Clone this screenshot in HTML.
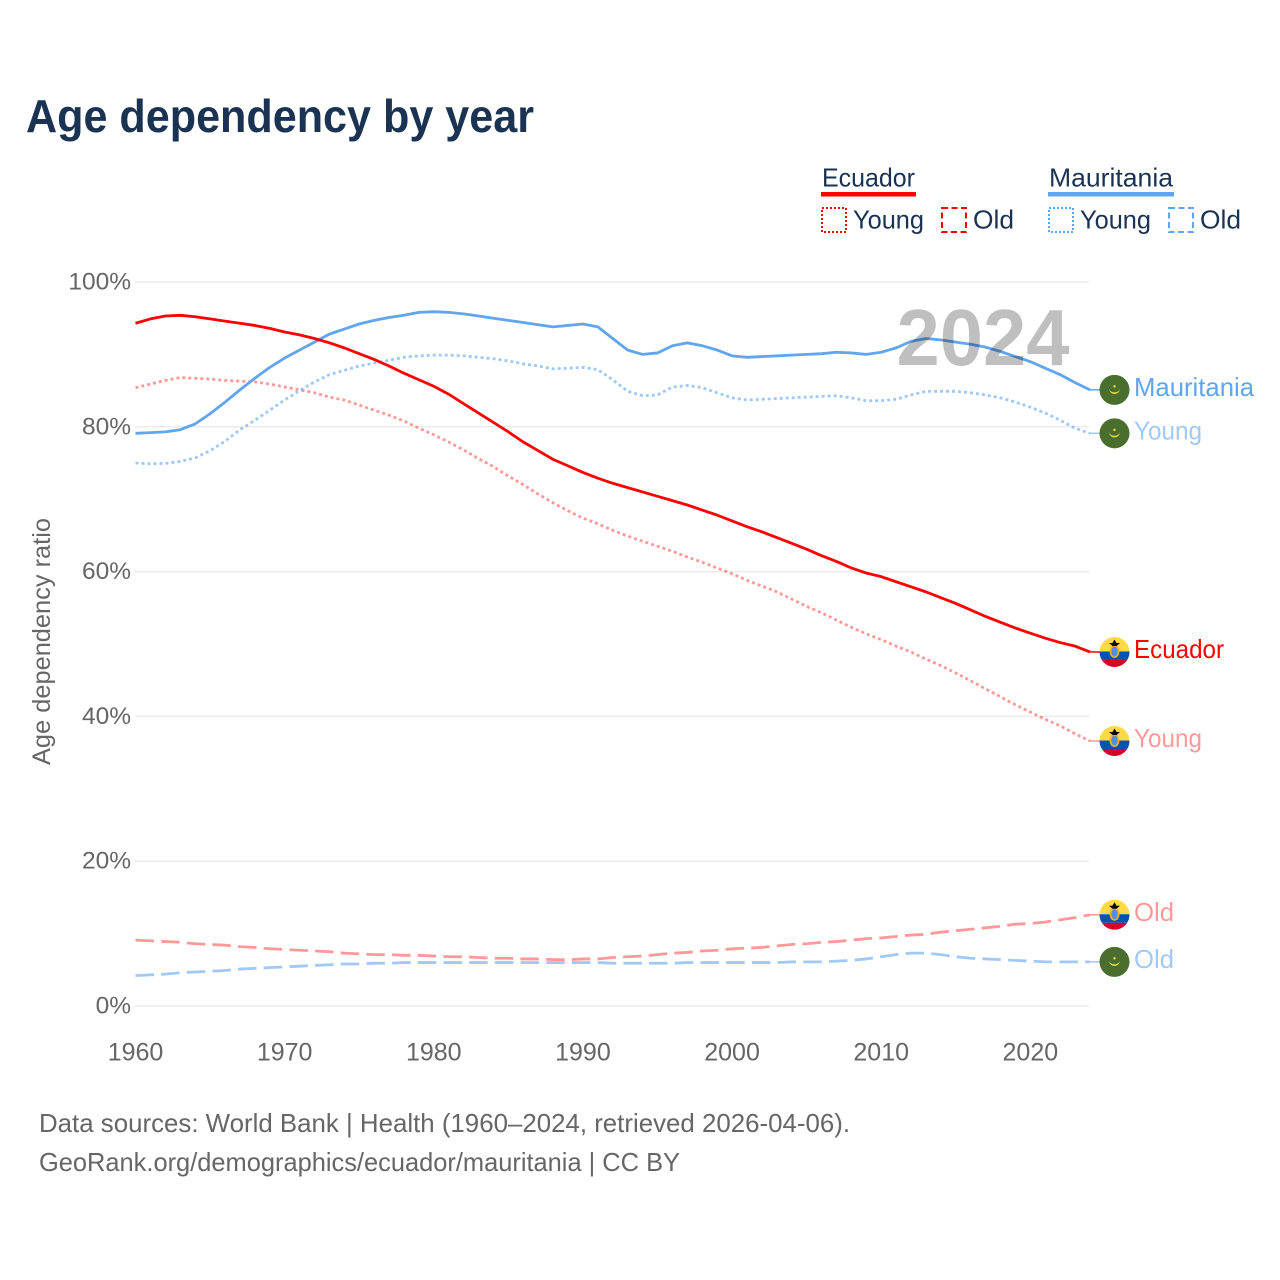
<!DOCTYPE html>
<html lang="en">
<head>
<meta charset="utf-8">
<title>Age dependency by year</title>
<style>
html,body{margin:0;padding:0;background:#fff;width:1280px;height:1280px;overflow:hidden}
svg{display:block}
text{font-family:"Liberation Sans",sans-serif}
</style>
</head>
<body>
<svg id="chart" xmlns="http://www.w3.org/2000/svg" width="1280" height="1280" viewBox="0 0 1280 1280">
  <text x="26" y="132" font-size="46" font-weight="700" fill="#1a3353" textLength="508" lengthAdjust="spacingAndGlyphs">Age dependency by year</text>

  <g id="grid"></g>
  <g id="yticks"></g>
  <g id="xticks"></g>
  <text transform="translate(50,641.5) rotate(-90)" text-anchor="middle" font-size="25" fill="#666" textLength="247" lengthAdjust="spacingAndGlyphs">Age dependency ratio</text>

  <g id="series"></g>

  <text x="896.5" y="365" font-size="80" font-weight="700" fill="rgba(0,0,0,0.25)" textLength="173" lengthAdjust="spacingAndGlyphs">2024</text>

  <g id="ends"></g>

  <g>
    <g>
      <text x="822" y="186.5" font-size="26" fill="#1a3353" textLength="93" lengthAdjust="spacingAndGlyphs">Ecuador</text>
      <rect x="821" y="192" width="95" height="4.5" fill="#ff0000"/>
      <rect x="822" y="208" width="24" height="24" fill="none" stroke="#ff0000" stroke-width="2" stroke-dasharray="2 2"/>
      <text x="853" y="228.5" font-size="26" fill="#1a3353" textLength="71" lengthAdjust="spacingAndGlyphs">Young</text>
      <rect x="942" y="208" width="24" height="24" fill="none" stroke="#ff0000" stroke-width="2" stroke-dasharray="6 3.5"/>
      <text x="973" y="228.5" font-size="26" fill="#1a3353" textLength="41" lengthAdjust="spacingAndGlyphs">Old</text>
    </g>
    <g>
      <text x="1049" y="186.5" font-size="26" fill="#1a3353" textLength="124" lengthAdjust="spacingAndGlyphs">Mauritania</text>
      <rect x="1048" y="192" width="126" height="4.5" fill="#60a5ee"/>
      <rect x="1049" y="208" width="24" height="24" fill="none" stroke="#60a5ee" stroke-width="2" stroke-dasharray="2 2"/>
      <text x="1080" y="228.5" font-size="26" fill="#1a3353" textLength="71" lengthAdjust="spacingAndGlyphs">Young</text>
      <rect x="1169" y="208" width="24" height="24" fill="none" stroke="#60a5ee" stroke-width="2" stroke-dasharray="6 3.5"/>
      <text x="1200" y="228.5" font-size="26" fill="#1a3353" textLength="41" lengthAdjust="spacingAndGlyphs">Old</text>
    </g>
  </g>

  <text x="39" y="1132" font-size="26" fill="#666" textLength="811" lengthAdjust="spacingAndGlyphs">Data sources: World Bank | Health (1960–2024, retrieved 2026-04-06).</text>
  <text x="39" y="1171" font-size="26" fill="#666" textLength="641" lengthAdjust="spacingAndGlyphs">GeoRank.org/demographics/ecuador/mauritania | CC BY</text>
</svg>
<script>
var firstYear = 1960;
var lastYear = 2024;
var xTickYears = [1960, 1970, 1980, 1990, 2000, 2010, 2020];
var yTickValues = [0, 20, 40, 60, 80, 100];
var yTickLabels = ['0%', '20%', '40%', '60%', '80%', '100%'];

var ecuadorTotal = [
  94.3,94.9,95.3,95.4,95.2,94.9,94.6,94.3,94.0,93.6,
  93.1,92.7,92.2,91.6,90.9,90.1,89.3,88.4,87.4,86.5,
  85.6,84.5,83.2,81.9,80.6,79.3,77.9,76.7,75.5,74.6,
  73.7,72.9,72.2,71.6,71.0,70.4,69.8,69.2,68.5,67.8,
  67.0,66.2,65.5,64.7,63.9,63.1,62.2,61.4,60.5,59.8,
  59.3,58.6,57.9,57.2,56.4,55.6,54.7,53.8,53.0,52.2,
  51.5,50.8,50.2,49.7,48.9
];
var ecuadorYoung = [
  85.4,85.9,86.4,86.8,86.7,86.6,86.4,86.3,86.2,85.9,
  85.5,85.1,84.7,84.1,83.7,83.0,82.3,81.6,80.8,79.8,
  78.9,77.9,76.8,75.6,74.5,73.2,72.0,70.7,69.5,68.4,
  67.4,66.6,65.7,64.9,64.2,63.5,62.8,62.0,61.3,60.5,
  59.7,58.8,58.0,57.2,56.2,55.2,54.3,53.3,52.3,51.4,
  50.6,49.7,48.9,47.9,47.0,46.0,44.9,43.8,42.7,41.6,
  40.6,39.6,38.7,37.6,36.6
];
var ecuadorOld = [
  9.1,9.0,8.9,8.8,8.6,8.5,8.4,8.2,8.1,7.9,
  7.8,7.7,7.6,7.5,7.3,7.2,7.1,7.1,7.0,7.0,
  6.9,6.8,6.8,6.7,6.6,6.6,6.5,6.5,6.4,6.4,
  6.5,6.5,6.7,6.8,6.9,7.1,7.3,7.4,7.6,7.7,
  7.9,8.0,8.1,8.3,8.5,8.6,8.8,8.9,9.1,9.3,
  9.4,9.6,9.8,9.9,10.2,10.4,10.6,10.8,11.0,11.3,
  11.4,11.6,11.9,12.2,12.6
];
var mauritaniaTotal = [
  79.1,79.2,79.3,79.6,80.4,81.8,83.4,85.1,86.7,88.2,
  89.5,90.6,91.7,92.8,93.5,94.2,94.7,95.1,95.4,95.8,
  95.9,95.8,95.6,95.3,95.0,94.7,94.4,94.1,93.8,94.0,
  94.2,93.8,92.2,90.6,90.0,90.2,91.2,91.6,91.2,90.6,
  89.8,89.6,89.7,89.8,89.9,90.0,90.1,90.3,90.2,90.0,
  90.3,90.9,91.8,92.2,92.0,91.7,91.4,91.0,90.4,89.7,
  89.0,88.1,87.2,86.1,85.1
];
var mauritaniaYoung = [
  75.0,74.9,74.95,75.2,75.7,76.7,78.0,79.6,80.9,82.3,
  83.7,85.0,86.2,87.2,87.8,88.4,88.8,89.2,89.6,89.8,
  89.9,89.9,89.8,89.6,89.4,89.1,88.7,88.4,88.0,88.1,
  88.2,87.9,86.5,84.9,84.3,84.4,85.5,85.7,85.4,84.7,
  84.0,83.7,83.8,83.9,84.0,84.1,84.2,84.3,84.0,83.6,
  83.6,83.8,84.4,84.9,84.9,84.9,84.7,84.4,84.0,83.4,
  82.7,81.9,80.9,79.8,79.1
];
var mauritaniaOld = [
  4.2,4.3,4.4,4.6,4.7,4.8,4.9,5.1,5.2,5.3,
  5.4,5.5,5.6,5.7,5.8,5.8,5.9,5.9,6.0,6.0,
  6.0,6.0,6.0,6.0,6.0,6.0,6.0,6.0,6.0,6.0,
  6.0,6.0,5.9,5.9,5.9,5.9,5.9,6.0,6.0,6.0,
  6.0,6.0,6.0,6.0,6.1,6.1,6.1,6.2,6.3,6.5,
  6.8,7.1,7.3,7.3,7.1,6.8,6.6,6.5,6.4,6.3,
  6.2,6.1,6.1,6.1,6.1
];

var NS = 'http://www.w3.org/2000/svg';
function x(year) { return 135.5 + (year - firstYear) * (1090 - 135.5) / (lastYear - firstYear); }
function y(value) { return 1006 - value * 7.24; }

function make(tag, parent, attrs, text) {
  var el = document.createElementNS(NS, tag);
  for (var k in attrs) el.setAttribute(k, attrs[k]);
  if (text !== undefined) el.textContent = text;
  parent.appendChild(el);
  return el;
}

var gridG = document.getElementById('grid');
var yG = document.getElementById('yticks');
yTickValues.forEach(function (v, i) {
  var line = make('line', gridG, { x1: 135, x2: 1089, y1: y(v), y2: y(v), stroke: '#ececec', 'stroke-width': 1.5 });
  
  
  var label = make('text', yG, { x: 131, y: y(v) + 7.5, 'text-anchor': 'end', 'font-size': 24.5, fill: '#666' }, yTickLabels[i]);
  
  
});

var xG = document.getElementById('xticks');
xTickYears.forEach(function (yr) {
  var label = make('text', xG, { x: x(yr), y: 1060.5, 'text-anchor': 'middle', 'font-size': 25, fill: '#666' }, String(yr));
  
  
});

var ecuadorRed = '#ff0000';
var mauritaniaBlue = '#60a5ee';
var seriesKeys = ['ecuador-old', 'mauritania-old', 'ecuador-young', 'mauritania-young', 'mauritania-total', 'ecuador-total'];
var seriesValues = [ecuadorOld, mauritaniaOld, ecuadorYoung, mauritaniaYoung, mauritaniaTotal, ecuadorTotal];
var seriesColors = [ecuadorRed, mauritaniaBlue, ecuadorRed, mauritaniaBlue, mauritaniaBlue, ecuadorRed];
var seriesOpacity = [0.4, 0.6, 0.4, 0.6, 1, 1];
var seriesDash = ['18.5 7.2', '18.5 7.2', '3 3', '3 3', '', ''];
var seriesLabels = ['Old', 'Old', 'Young', 'Young', 'Mauritania', 'Ecuador'];
var seriesFlags = ['ecuador', 'mauritania', 'ecuador', 'mauritania', 'mauritania', 'ecuador'];

var sG = document.getElementById('series');
var eG = document.getElementById('ends');

function drawEcuadorFlag(cx, cy) {
  var id = 'clip-' + Math.round(cx) + '-' + Math.round(cy);
  var g = make('g', eG, {});
  
  
  var clip = make('clipPath', g, { id: id });
  make('circle', clip, { cx: cx, cy: cy, r: 15 });
  var inner = make('g', g, { 'clip-path': 'url(#' + id + ')' });
  make('rect', inner, { x: cx - 15, y: cy - 15, width: 30, height: 14.5, fill: '#ffda44' });
  make('rect', inner, { x: cx - 15, y: cy - 0.5, width: 30, height: 8.5, fill: '#0052b4' });
  make('rect', inner, { x: cx - 15, y: cy + 8, width: 30, height: 7, fill: '#d80027' });
  make('ellipse', inner, { cx: cx, cy: cy - 0.5, rx: 5, ry: 6.5, fill: '#f0b429' });
  make('ellipse', inner, { cx: cx, cy: cy - 0.5, rx: 3.2, ry: 5, fill: '#4f8fe8' });
  make('path', inner, { d: 'M' + (cx - 5.5) + ' ' + (cy - 9) + 'h11l-3.5 3h-4zM' + (cx - 2) + ' ' + (cy - 9) + 'l2-3.5 2 3.5z', fill: '#000' });
}
function drawMauritaniaFlag(cx, cy) {
  var g = make('g', eG, {});
  
  
  make('circle', g, { cx: cx, cy: cy, r: 15, fill: '#496e2d' });
  make('path', g, { d: 'M' + (cx - 5.5) + ' ' + (cy - 1.5) + 'a5.5 5.5 0 0 0 11 0a5.5 4 0 0 1-11 0z', fill: '#ffda44' });
  make('circle', g, { cx: cx, cy: cy - 3.5, r: 1.2, fill: '#ffda44' });
}

seriesKeys.forEach(function (key, i) {
  var values = seriesValues[i];
  var d = values.map(function (v, j) {
    return (j ? 'L' : 'M') + x(firstYear + j).toFixed(2) + ' ' + y(v).toFixed(2);
  }).join('');
  var path = make('path', sG, {
    d: d, fill: 'none', stroke: seriesColors[i], 'stroke-opacity': seriesOpacity[i],
    'stroke-width': 2.8, 'stroke-linejoin': 'round'
  });
  if (seriesDash[i]) path.setAttribute('stroke-dasharray', seriesDash[i]);
  
  

  var endY = y(values[values.length - 1]);
  var connector = make('line', sG, {
    x1: x(lastYear), x2: 1100, y1: endY, y2: endY,
    stroke: seriesColors[i], 'stroke-opacity': seriesOpacity[i], 'stroke-width': 1.5
  });
  
  

  if (seriesFlags[i] === 'ecuador') drawEcuadorFlag(1114.5, endY);
  else drawMauritaniaFlag(1114.5, endY);

  var label = make('text', eG, {
    x: 1134, y: endY + 6, 'font-size': 26, fill: seriesColors[i], 'fill-opacity': seriesOpacity[i]
  }, seriesLabels[i]);
  
  
  var widths = { 'Old': 40, 'Young': 68, 'Mauritania': 120, 'Ecuador': 90 };
  label.setAttribute('textLength', widths[seriesLabels[i]]);
  label.setAttribute('lengthAdjust', 'spacingAndGlyphs');
});
</script>
</body>
</html>
